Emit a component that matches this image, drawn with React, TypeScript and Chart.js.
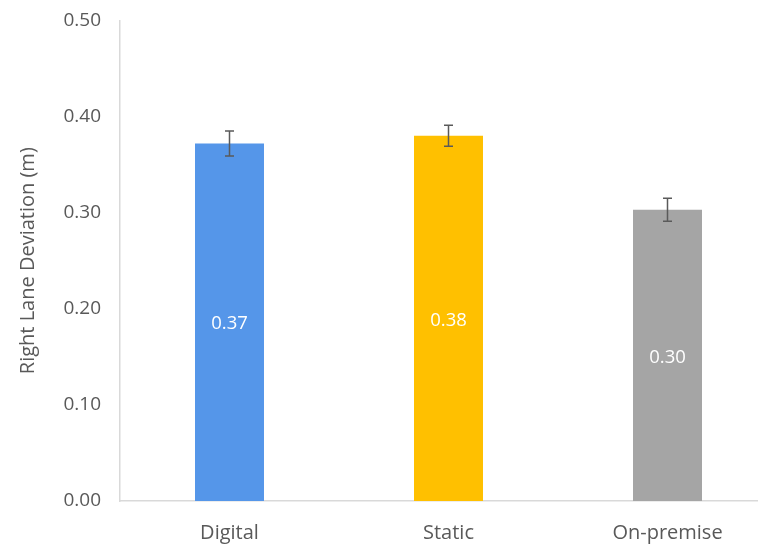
import React, { useEffect, useRef } from "react";
import { Chart, registerables } from "chart.js";

Chart.register(...registerables);

const categories = ["Digital", "Static", "On-premise"];
const values = [0.372, 0.38, 0.303];
const errors = [0.013, 0.011, 0.012];
const valueLabels = ["0.37", "0.38", "0.30"];
const colors = ["#5596E9", "#FFC000", "#A5A5A5"];
const yTicks = [0, 0.1, 0.2, 0.3, 0.4, 0.5];

const FONT = "'Open Sans', 'DejaVu Sans', sans-serif";
const TEXT = "#595959";

const overlayPlugin = {
  id: "overlay",
  afterDatasetsDraw(chart: any) {
    const ctx = chart.ctx;
    const meta = chart.getDatasetMeta(0);
    const y = chart.scales.y;
    ctx.save();
    meta.data.forEach((el: any, i: number) => {
      const x = el.x;
      // value label
      ctx.fillStyle = "#FFFFFF";
      ctx.font = `18.5px ${FONT}`;
      ctx.textAlign = "center";
      ctx.textBaseline = "middle";
      ctx.fillText(valueLabels[i], x, (el.y + el.base) / 2 + 2);
      // error bar
      const hi = y.getPixelForValue(values[i] + errors[i]);
      const lo = y.getPixelForValue(values[i] - errors[i]);
      ctx.strokeStyle = "#5A5A5A";
      ctx.lineWidth = 1.5;
      ctx.beginPath();
      ctx.moveTo(x, hi);
      ctx.lineTo(x, lo);
      ctx.moveTo(x - 4.5, hi);
      ctx.lineTo(x + 4.5, hi);
      ctx.moveTo(x - 4.5, lo);
      ctx.lineTo(x + 4.5, lo);
      ctx.stroke();
    });
    ctx.restore();
  },
};

export default function App() {
  const ref = useRef<HTMLCanvasElement>(null);
  useEffect(() => {
    if (!ref.current) return;
    const chart = new Chart(ref.current, {
      type: "bar",
      data: {
        labels: categories,
        datasets: [
          {
            data: values,
            backgroundColor: colors,
            borderWidth: 0,
            barPercentage: 0.315,
            categoryPercentage: 1,
          },
        ],
      },
      options: {
        responsive: false,
        animation: false,
        devicePixelRatio: 1,
        layout: { padding: { top: 1, right: 0, bottom: 0, left: 0 } },
        plugins: { legend: { display: false }, tooltip: { enabled: false } },
        scales: {
          x: {
            grid: { display: false, drawTicks: false },
            border: { color: "#D9D9D9", width: 1.5 },
            ticks: { color: TEXT, font: { family: FONT, size: 20 }, padding: 20 },
            afterFit: (s: any) => {
              s.height = 44;
            },
          },
          y: {
            min: 0,
            max: 0.5,
            afterBuildTicks: (s: any) => {
              s.ticks = yTicks.map((v) => ({ value: v }));
            },
            grid: { display: false, drawTicks: false },
            border: { color: "#D9D9D9", width: 1.5 },
            ticks: {
              color: TEXT,
              font: { family: FONT, size: 19 },
              padding: 19,
              callback: (v: any) => Number(v).toFixed(2),
            },
            title: {
              display: true,
              text: "Right Lane Deviation (m)",
              color: TEXT,
              font: { family: FONT, size: 20, weight: "normal" },
              padding: { top: 16, bottom: 0 },
            },
            afterFit: (s: any) => {
              s.width = 120;
            },
          },
        },
      },
      plugins: [overlayPlugin],
    });
    return () => chart.destroy();
  }, []);
  return (
    <div
      style={{
        position: "fixed",
        left: 0,
        top: 0,
        width: 758,
        height: 545,
        overflow: "hidden",
        background: "#fff",
      }}
    >
      <canvas
        ref={ref}
        width={777}
        height={555}
        style={{ display: "block", marginTop: -10 }}
      />
    </div>
  );
}
